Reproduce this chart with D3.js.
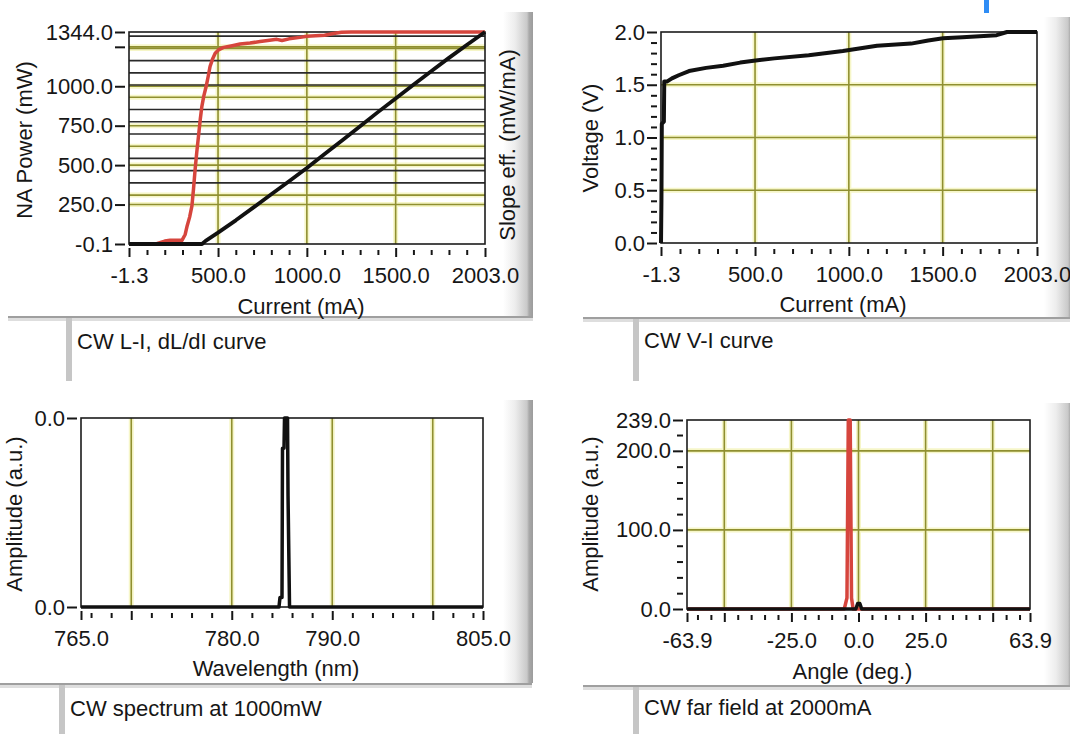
<!DOCTYPE html>
<html>
<head>
<meta charset="utf-8">
<script src="https://cdn.jsdelivr.net/npm/d3@7/dist/d3.min.js"></script>
<style>
  body { margin: 0; background: #fff; }
  svg { display: block; font-family: "Liberation Sans", Arial, sans-serif; }
  .tick text { font-size: 22px; fill: #161616; font-family: "Liberation Sans", Arial, sans-serif; }
  .tick line { stroke: #161616; stroke-width: 2; }
  .title { font-size: 22px; fill: #161616; }
</style>
</head>
<body>
<script>
// ---- data ----

// CW L-I curve (black), current in mA, power in mW
const liCurrent = [-1.3, 410, 430, 500, 600, 700, 800, 900, 1000, 1100, 1200, 1300, 1400, 1500, 1600, 1700, 1800, 1900, 2003];
const liPower   = [-0.1, -0.1, 20, 72, 150, 232, 315, 398, 482, 570, 658, 746, 836, 922, 1010, 1095, 1180, 1262, 1344];

// dL/dI curve (red), slope efficiency in mW/mA on the unlabeled right scale
const seCurrent = [-1.3, 150, 200, 230, 297, 315, 326, 340, 353, 362, 371, 380, 390, 400, 409, 420, 433, 445, 455, 470, 484, 505, 531, 580, 624, 680, 737, 780, 831, 860, 900, 962, 1000, 1100, 1150, 1195, 1250, 2003];
const slopeEff  = [0, 0, 0.012, 0.015, 0.015, 0.039, 0.074, 0.11, 0.156, 0.226, 0.305, 0.374, 0.441, 0.51, 0.563, 0.606, 0.644, 0.687, 0.726, 0.758, 0.78, 0.795, 0.804, 0.811, 0.818, 0.822, 0.828, 0.832, 0.837, 0.832, 0.839, 0.845, 0.85, 0.854, 0.861, 0.866, 0.867, 0.867];

// CW V-I curve
const viCurrent = [-1.3, 1, 3, 14, 16, 30, 57, 93, 148, 239, 330, 421, 503, 603, 786, 968, 1150, 1332, 1423, 1502, 1606, 1788, 1843, 2003];
const viVoltage = [0, 0.4, 1.13, 1.15, 1.53, 1.53, 1.56, 1.59, 1.63, 1.66, 1.68, 1.71, 1.73, 1.75, 1.78, 1.82, 1.87, 1.89, 1.92, 1.94, 1.95, 1.97, 2.0, 2.0];

// CW spectrum at 1000mW
const specWavelength = [765, 784.7, 784.8, 785.0, 785.05, 785.2, 785.25, 785.55, 785.6, 785.75, 805];
const specAmplitude  = [0, 0, 0.002, 0.002, 0.0336, 0.0336, 0.04, 0.04, 0.0236, 0, 0];

// CW far field at 2000mA
const ffAngleRed   = [-63.9, -5.3, -4.3, -3.8, -3.1, -2.6, -2.0, 63.9];
const ffAmpRed     = [0, 0, 14, 239, 239, 14, 0, 0];
const ffAngleBlack = [-63.9, -1.0, -0.3, 0.5, 1.2, 63.9];
const ffAmpBlack   = [0, 0, 7, 7, 0, 0];

// ---- ticks ----
const currentMajor = [-1.3, 500, 1000, 1500, 2003];
const currentMinor = [100, 200, 300, 400, 600, 700, 800, 900, 1100, 1200, 1300, 1400, 1600, 1700, 1800, 1900];
const currentGrid  = [500, 1000, 1500];

const liYMajor  = [-0.1, 250, 500, 750, 1000, 1250, 1344];
const liYLabels = [-0.1, 250, 500, 750, 1000, 1344];
const liYGrid   = [250, 500, 750, 1000, 1250];
const seGridMajor = [0.2, 0.4, 0.6, 0.8];
const seGridMinor = [0.25, 0.3, 0.35, 0.45, 0.5, 0.55, 0.65, 0.7, 0.75, 0.85];

const viYMajor = [0, 0.5, 1, 1.5, 2];
const viYMinor = [0.1, 0.2, 0.3, 0.4, 0.6, 0.7, 0.8, 0.9, 1.1, 1.2, 1.3, 1.4, 1.6, 1.7, 1.8, 1.9];
const viYGrid  = [0.5, 1, 1.5];

const specXMajor  = [765, 770, 780, 790, 800, 805];
const specXLabels = [765, 780, 790, 805];
const specXMinor  = [766, 768, 772, 774, 776, 778, 782, 784, 786, 788, 792, 794, 796, 798, 802, 804];
const specXGrid   = [770, 780, 790, 800];
const specYMajor  = [0, 0.04];

const ffXMajor  = [-63.9, -50, -25, 0, 25, 50, 63.9];
const ffXLabels = [-63.9, -25, 0, 25, 63.9];
const ffXMinor  = [-60, -55, -45, -40, -35, -30, -20, -15, -10, -5, 5, 10, 15, 20, 30, 35, 40, 45, 55, 60];
const ffXGrid   = [-50, -25, 0, 25, 50];
const ffYMajor  = [0, 100, 200, 239];
const ffYMinor  = [20, 40, 60, 80, 120, 140, 160, 180, 220];
const ffYGrid   = [100, 200];

const red = "#d6453d", black = "#111";
const fmt = d => d.toFixed(1);

const svg = d3.select("body").append("svg").attr("width", 1070).attr("height", 734);

const grad = svg.append("defs").append("linearGradient").attr("id", "shade");
[[0, "#ffffff"], [0.4, "#ededed"], [0.8, "#c9c9c9"], [0.87, "#a9a9a9"], [1, "#9c9c9c"]]
  .forEach(([o, c]) => grad.append("stop").attr("offset", o).attr("stop-color", c));

function drawFrame(f) {
  svg.append("rect").attr("x", f.barX).attr("y", f.barTop).attr("width", 30)
     .attr("height", f.lineY - f.barTop).attr("fill", "url(#shade)");
  svg.append("rect").attr("x", f.lineX0).attr("y", f.lineY).attr("width", f.lineX1 - f.lineX0)
     .attr("height", 2).attr("fill", "#9f9f9f");
  svg.append("rect").attr("x", f.lineX0).attr("y", f.lineY + 2).attr("width", f.lineX1 - f.lineX0)
     .attr("height", 3).attr("fill", "#dedede");
  svg.append("rect").attr("x", f.capX).attr("y", f.lineY + 2).attr("width", 6)
     .attr("height", f.capBottom - f.lineY - 2).attr("fill", "#c6c6c6");
  svg.append("text").attr("class", "title").attr("x", f.capX + 11).attr("y", f.capY)
     .attr("dominant-baseline", "central").text(f.caption);
}

function drawPanel(p) {
  const x = d3.scaleLinear().domain(p.xDomain).range([p.left, p.right]);
  const y = d3.scaleLinear().domain(p.yDomain).range([p.bottom, p.top]);
  const y2 = p.y2Domain ? d3.scaleLinear().domain(p.y2Domain).range([p.bottom, p.top]) : null;
  const g = svg.append("g");

  // olive gridlines (halo + core), then black minor grid of the right scale
  const olive = [];
  p.xGrid.forEach(v => olive.push([x(v), p.top, x(v), p.bottom]));
  (p.yGrid || []).forEach(v => olive.push([p.left, y(v), p.right, y(v)]));
  (p.y2GridMajor || []).forEach(v => olive.push([p.left, y2(v), p.right, y2(v)]));
  [["#f6f6c8", 5], ["#8f8f30", 1.6]].forEach(([c, w]) => {
    g.selectAll(null).data(olive).enter().append("line")
     .attr("x1", d => d[0]).attr("y1", d => d[1]).attr("x2", d => d[2]).attr("y2", d => d[3])
     .attr("stroke", c).attr("stroke-width", w);
  });
  g.selectAll(null).data(p.y2GridMinor || []).enter().append("line")
   .attr("x1", p.left).attr("x2", p.right).attr("y1", d => y2(d)).attr("y2", d => y2(d))
   .attr("stroke", "#2a2a2a").attr("stroke-width", 1.6);

  g.append("rect").attr("x", p.left).attr("y", p.top)
   .attr("width", p.right - p.left).attr("height", p.bottom - p.top)
   .attr("fill", "none").attr("stroke", "#1c1c1c").attr("stroke-width", 1.6);

  // axes
  g.append("g").attr("transform", `translate(0,${p.bottom + 4})`)
   .call(d3.axisBottom(x).tickValues(p.xMajor).tickSize(9).tickPadding(10)
          .tickFormat(d => p.xLabels.includes(d) ? fmt(d) : ""))
   .call(a => a.select(".domain").remove());
  g.append("g").attr("transform", `translate(0,${p.bottom + 6})`)
   .call(d3.axisBottom(x).tickValues(p.xMinor).tickSize(5).tickFormat(""))
   .call(a => a.select(".domain").remove());
  g.append("g").attr("transform", `translate(${p.left - 4},0)`)
   .call(d3.axisLeft(y).tickValues(p.yMajor).tickSize(10).tickPadding(2)
          .tickFormat(d => p.yLabels.includes(d) ? fmt(d) : ""))
   .call(a => a.select(".domain").remove());
  g.append("g").attr("transform", `translate(${p.left - 4},0)`)
   .call(d3.axisLeft(y).tickValues(p.yMinor).tickSize(6).tickFormat(""))
   .call(a => a.select(".domain").remove());

  // titles
  g.append("text").attr("class", "title").attr("text-anchor", "middle")
   .attr("x", (p.left + p.right) / 2 - 6).attr("y", p.xTitleY)
   .attr("dominant-baseline", "central").text(p.xTitle);
  g.append("text").attr("class", "title").attr("text-anchor", "middle")
   .attr("transform", `translate(${p.yTitleX},${p.yTitleY}) rotate(-90)`)
   .attr("dominant-baseline", "central").text(p.yTitle);
  if (p.y2Title) {
    g.append("text").attr("class", "title").attr("text-anchor", "middle")
     .attr("transform", `translate(${p.y2TitleX},${p.y2TitleY}) rotate(-90)`)
     .attr("dominant-baseline", "central").text(p.y2Title);
  }

  // curves
  p.series.forEach(s => {
    const ys = s.axis === "y2" ? y2 : y;
    const line = d3.line().x(i => x(s.xs[i])).y(i => ys(s.ys[i]));
    g.append("path").datum(d3.range(s.xs.length))
     .attr("d", line).attr("fill", "none")
     .attr("stroke", s.color).attr("stroke-width", s.width)
     .attr("stroke-linejoin", "round");
  });
}

const frames = [
  { barX: 503, barTop: 12, lineY: 316, lineX0: 8, lineX1: 533, capX: 66, capBottom: 381, capY: 341, caption: "CW L-I, dL/dI curve" },
  { barX: 1044, barTop: 17, lineY: 317, lineX0: 583, lineX1: 1070, capX: 633, capBottom: 381, capY: 340, caption: "CW V-I curve" },
  { barX: 503, barTop: 400, lineY: 683, lineX0: 0, lineX1: 532, capX: 59, capBottom: 734, capY: 708, caption: "CW spectrum at 1000mW" },
  { barX: 1044, barTop: 403, lineY: 685, lineX0: 583, lineX1: 1070, capX: 633, capBottom: 734, capY: 707, caption: "CW far field at 2000mA" }
];
frames.forEach(drawFrame);

const panels = [
  {
    left: 129, right: 485, top: 32, bottom: 244,
    xDomain: [-1.3, 2003], yDomain: [-0.1, 1344], y2Domain: [0, 0.867],
    xMajor: currentMajor, xLabels: currentMajor, xMinor: currentMinor, xGrid: currentGrid,
    yMajor: liYMajor, yLabels: liYLabels, yMinor: [], yGrid: liYGrid,
    y2GridMajor: seGridMajor, y2GridMinor: seGridMinor,
    xTitle: "Current (mA)", xTitleY: 306,
    yTitle: "NA Power (mW)", yTitleX: 24, yTitleY: 140,
    y2Title: "Slope eff. (mW/mA)", y2TitleX: 507, y2TitleY: 145,
    series: [
      { xs: seCurrent, ys: slopeEff, axis: "y2", color: red, width: 3.5 },
      { xs: liCurrent, ys: liPower, axis: "y", color: black, width: 3.8 }
    ]
  },
  {
    left: 661, right: 1037, top: 32, bottom: 243,
    xDomain: [-1.3, 2003], yDomain: [0, 2],
    xMajor: currentMajor, xLabels: currentMajor, xMinor: currentMinor, xGrid: currentGrid,
    yMajor: viYMajor, yLabels: viYMajor, yMinor: viYMinor, yGrid: viYGrid,
    xTitle: "Current (mA)", xTitleY: 304,
    yTitle: "Voltage (V)", yTitleX: 590, yTitleY: 138,
    series: [{ xs: viCurrent, ys: viVoltage, color: black, width: 4 }]
  },
  {
    left: 81, right: 483, top: 418, bottom: 607,
    xDomain: [765, 805], yDomain: [0, 0.04],
    xMajor: specXMajor, xLabels: specXLabels, xMinor: specXMinor, xGrid: specXGrid,
    yMajor: specYMajor, yLabels: specYMajor, yMinor: [], yGrid: [],
    xTitle: "Wavelength (nm)", xTitleY: 668,
    yTitle: "Amplitude (a.u.)", yTitleX: 14, yTitleY: 514,
    series: [{ xs: specWavelength, ys: specAmplitude, color: black, width: 3.5 }]
  },
  {
    left: 687, right: 1030, top: 420, bottom: 609,
    xDomain: [-63.9, 63.9], yDomain: [0, 239],
    xMajor: ffXMajor, xLabels: ffXLabels, xMinor: ffXMinor, xGrid: ffXGrid,
    yMajor: ffYMajor, yLabels: ffYMajor, yMinor: ffYMinor, yGrid: ffYGrid,
    xTitle: "Angle (deg.)", xTitleY: 671,
    yTitle: "Amplitude (a.u.)", yTitleX: 590, yTitleY: 514,
    series: [
      { xs: ffAngleRed, ys: ffAmpRed, color: red, width: 3.5 },
      { xs: ffAngleBlack, ys: ffAmpBlack, color: black, width: 3.5 }
    ]
  }
];
panels.forEach(drawPanel);

// small blue marker at the top edge
svg.append("rect").attr("x", 984).attr("y", 0).attr("width", 5).attr("height", 13).attr("fill", "#2f8df5");
</script>
</body>
</html>
